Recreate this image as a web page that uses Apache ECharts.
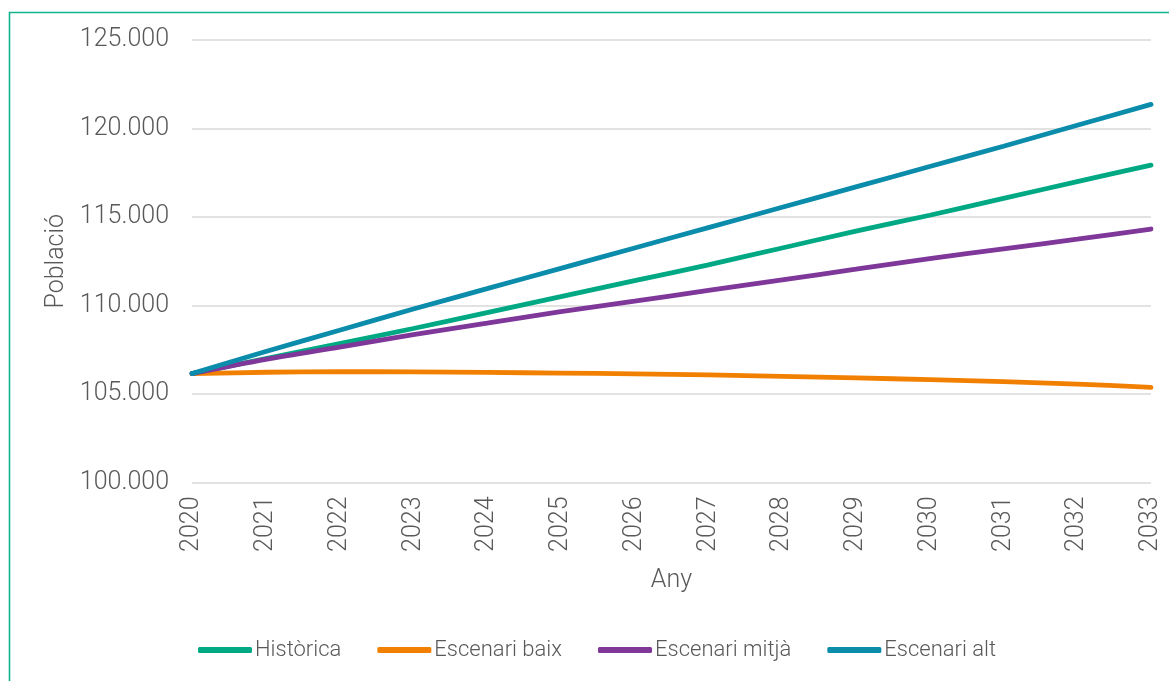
<!DOCTYPE html>
<html>
<head>
<meta charset="utf-8">
<script src="https://cdn.jsdelivr.net/npm/echarts@6/dist/echarts.min.js"></script>
<style>
  html, body { margin: 0; padding: 0; background: #ffffff; }
  #chart { width: 1169px; height: 681px; }
</style>
</head>
<body>
<div id="chart"></div>
<script>
// Years on the horizontal axis
const years = ['2020','2021','2022','2023','2024','2025','2026','2027','2028','2029','2030','2031','2032','2033'];

// Population projections per scenario
const historica = [106150, 107000, 107850, 108700, 109600, 110500, 111400, 112300, 113250, 114200, 115100, 116050, 117000, 117930];
const escenariBaix = [106150, 106230, 106260, 106250, 106220, 106180, 106140, 106080, 106000, 105910, 105810, 105700, 105560, 105380];
const escenariMitja = [106150, 106950, 107650, 108350, 109000, 109650, 110250, 110850, 111450, 112050, 112650, 113200, 113750, 114320];
const escenariAlt = [106150, 107400, 108600, 109800, 110950, 112100, 113250, 114400, 115550, 116700, 117850, 119000, 120180, 121360];

const seriesNames = ['Històrica', 'Escenari baix', 'Escenari mitjà', 'Escenari alt'];
const seriesData = [historica, escenariBaix, escenariMitja, escenariAlt];
const colors = ['#00a984', '#f28000', '#7f3799', '#0b8cab'];

const FONT = 'Roboto';
const TEXT = '#595959';

const fmt = v => String(v).replace(/\B(?=(\d{3})+(?!\d))/g, '.');

const chart = echarts.init(document.getElementById('chart'), null, { renderer: 'canvas' });

chart.setOption({
  animation: false,
  backgroundColor: '#ffffff',
  color: colors,
  textStyle: { fontFamily: FONT, fontWeight: 300, color: TEXT },
  graphic: [{
    type: 'rect',
    left: 7, top: 10,
    shape: { width: 1200, height: 720 },
    style: { fill: 'none', stroke: '#12b38e', lineWidth: 1.6 },
    silent: true
  }],
  grid: { left: 192, right: 18, top: 40, bottom: 198.5, containLabel: false },
  legend: {
    bottom: 15,
    left: 193,
    icon: 'roundRect',
    itemWidth: 54,
    itemHeight: 6,
    itemGap: 36,
    textStyle: { fontFamily: FONT, fontWeight: 300, fontSize: 22, color: TEXT, padding: [0, 0, 0, -2] },
    data: seriesNames
  },
  xAxis: {
    type: 'category',
    data: years,
    boundaryGap: false,
    name: 'Any',
    nameLocation: 'middle',
    nameGap: 86,
    nameTextStyle: { fontFamily: FONT, fontWeight: 300, fontSize: 25, color: TEXT },
    axisLine: { show: false },
    axisTick: { show: false },
    axisLabel: { rotate: 90, margin: 14, fontFamily: FONT, fontWeight: 300, fontSize: 25, color: TEXT }
  },
  yAxis: {
    type: 'value',
    min: 100000,
    max: 125000,
    interval: 5000,
    name: 'Població',
    nameLocation: 'middle',
    nameRotate: 90,
    nameGap: 116,
    nameTextStyle: { fontFamily: FONT, fontWeight: 300, fontSize: 25, color: TEXT },
    axisLine: { show: false },
    axisTick: { show: false },
    axisLabel: { margin: 23, fontFamily: FONT, fontWeight: 300, fontSize: 25, color: TEXT, formatter: fmt },
    splitLine: { lineStyle: { color: '#d9d9d9', width: 1.6 } }
  },
  series: seriesNames.map((name, i) => ({
    name,
    type: 'line',
    data: seriesData[i],
    smooth: 0.3,
    symbol: 'none',
    lineStyle: { width: 4.8, color: colors[i], cap: 'round' },
    itemStyle: { color: colors[i] }
  }))
});
</script>
</body>
</html>
